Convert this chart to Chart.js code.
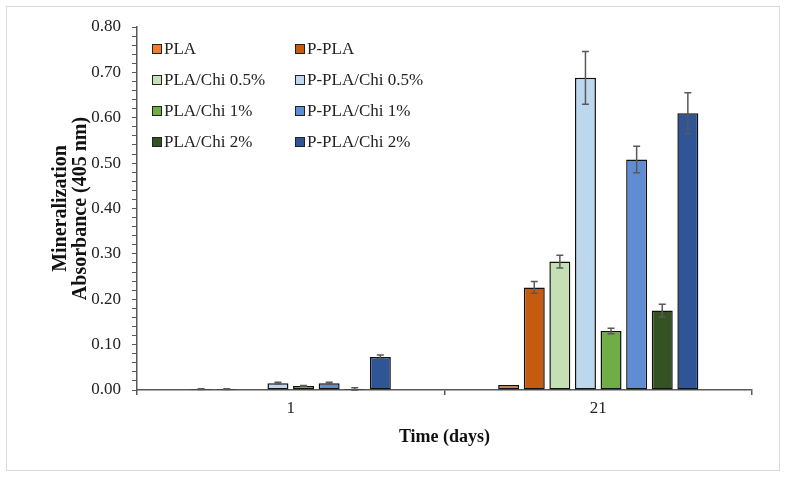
<!DOCTYPE html>
<html>
<head>
<meta charset="utf-8">
<script src="https://cdn.jsdelivr.net/npm/chart.js@4.4.1/dist/chart.umd.min.js"></script>
<style>
  body { margin: 0; background: #fff; }
  #wrap { position: relative; width: 785px; height: 477px; }
  #frame { position: absolute; left: 6px; top: 6px; width: 772px; height: 463px; border: 1px solid #d9d9d9; pointer-events: none; }
  #legend { position: absolute; left: 152px; top: 33px; display: grid; grid-template-columns: 143px 160px; grid-auto-rows: 31px;
            font-family: "Liberation Serif", "Times New Roman", serif; font-size: 17px; color: #222; }
  .item { display: flex; align-items: center; white-space: nowrap; }
  .box { width: 8px; height: 8px; border: 1px solid #222; margin-right: 2px; }
</style>
</head>
<body>
<div id="wrap">
  <canvas id="chart" width="785" height="477"></canvas>
  <div id="frame"></div>
  <div id="legend"></div>
</div>
<script>
// days on the x axis
const days = ["1", "21"];

const seriesNames = ["PLA", "P-PLA", "PLA/Chi 0.5%", "P-PLA/Chi 0.5%", "PLA/Chi 1%", "P-PLA/Chi 1%", "PLA/Chi 2%", "P-PLA/Chi 2%"];
const seriesColors = ["#ED7D31", "#C55A11", "#C5E0B4", "#BDD7EE", "#70AD47", "#5F8CD2", "#355322", "#2F5597"];

// absorbance values, [day 1, day 21]
const pla        = [0.002, 0.011];
const pPla       = [0.002, 0.226];
const plaChi05   = [0.000, 0.283];
const pPlaChi05  = [0.015, 0.688];
const plaChi1    = [0.009, 0.130];
const pPlaChi1   = [0.015, 0.508];
const plaChi2    = [0.002, 0.175];
const pPlaChi2   = [0.073, 0.610];

// standard deviations
const plaErr       = [0.001, 0.000];
const pPlaErr      = [0.001, 0.013];
const plaChi05Err  = [0.000, 0.014];
const pPlaChi05Err = [0.002, 0.058];
const plaChi1Err   = [0.001, 0.006];
const pPlaChi1Err  = [0.002, 0.029];
const plaChi2Err   = [0.003, 0.014];
const pPlaChi2Err  = [0.004, 0.045];

const values = [pla, pPla, plaChi05, pPlaChi05, plaChi1, pPlaChi1, plaChi2, pPlaChi2];
const errors = [plaErr, pPlaErr, plaChi05Err, pPlaChi05Err, plaChi1Err, pPlaChi1Err, plaChi2Err, pPlaChi2Err];

const yTicks = [0, 0.1, 0.2, 0.3, 0.4, 0.5, 0.6, 0.7, 0.8];

// error bars drawn on top of the bars
const errorBars = {
  id: "errorBars",
  afterDatasetsDraw(chart) {
    const ctx = chart.ctx;
    const y = chart.scales.y;
    ctx.save();
    ctx.strokeStyle = "#595959";
    ctx.lineWidth = 1.5;
    chart.data.datasets.forEach((ds, di) => {
      const meta = chart.getDatasetMeta(di);
      meta.data.forEach((bar, i) => {
        const e = ds.errors[i];
        if (!e) return;
        const v = ds.data[i];
        const top = y.getPixelForValue(v + e);
        const bot = y.getPixelForValue(Math.max(v - e, 0));
        ctx.beginPath();
        ctx.moveTo(bar.x, top); ctx.lineTo(bar.x, bot);
        ctx.moveTo(bar.x - 3.5, top); ctx.lineTo(bar.x + 3.5, top);
        ctx.moveTo(bar.x - 3.5, bot); ctx.lineTo(bar.x + 3.5, bot);
        ctx.stroke();
      });
    });
    ctx.restore();
  }
};

const serif = "'Liberation Serif', 'Times New Roman', serif";

new Chart(document.getElementById("chart"), {
  type: "bar",
  data: {
    labels: days,
    datasets: seriesNames.map((name, i) => ({
      label: name,
      data: values[i],
      errors: errors[i],
      backgroundColor: seriesColors[i],
      borderColor: "#111",
      borderWidth: 1.5,
      borderSkipped: false,
      categoryPercentage: 0.666,
      barPercentage: 0.82
    }))
  },
  options: {
    responsive: false,
    animation: false,
    layout: { padding: { top: 27, right: 33, left: 0, bottom: 0 } },
    plugins: {
      legend: { display: false },
      tooltip: { enabled: false }
    },
    scales: {
      x: {
        afterFit: s => { s.height = 87; },
        border: { color: "#595959", width: 1.5 },
        grid: { offset: true, drawOnChartArea: false, tickLength: 5, color: "#595959", lineWidth: 1.5 },
        ticks: { color: "#222", font: { family: serif, size: 17 }, padding: 3 },
        title: { display: true, text: "Time (days)", color: "#111", font: { family: serif, size: 18, weight: "bold", lineHeight: 1.2 }, padding: { top: 0, bottom: 29 } }
      },
      y: {
        min: 0, max: 0.8,
        afterFit: s => { s.width = 137; },
        afterBuildTicks: s => {
          // minor ticks every 0.02, labels only on the main ticks
          const t = [];
          for (let k = 0; k <= 40; k++) t.push({ value: k * 0.02 });
          s.ticks = t;
        },
        border: { color: "#595959", width: 1.5 },
        grid: { drawOnChartArea: false, tickLength: 5, color: "#595959", lineWidth: 1 },
        ticks: {
          autoSkip: false,
          color: "#222",
          font: { family: serif, size: 17 },
          padding: 11,
          callback: v => {
            const hit = yTicks.find(t => Math.abs(t - v) < 1e-6);
            return hit === undefined ? "" : hit.toFixed(2);
          }
        },
        title: { display: true, text: ["Mineralization", "Absorbance (405 nm)"], color: "#111", font: { family: serif, size: 20, weight: "bold", lineHeight: 1.0 }, padding: { top: 51, bottom: 0 } }
      }
    }
  },
  plugins: [errorBars]
});

// legend in two columns, same order as the bars
const legend = document.getElementById("legend");
seriesNames.forEach((name, i) => {
  const item = document.createElement("div");
  item.className = "item";
  item.innerHTML = '<span class="box" style="background:' + seriesColors[i] + '"></span>' + name;
  legend.appendChild(item);
});
</script>
</body>
</html>
